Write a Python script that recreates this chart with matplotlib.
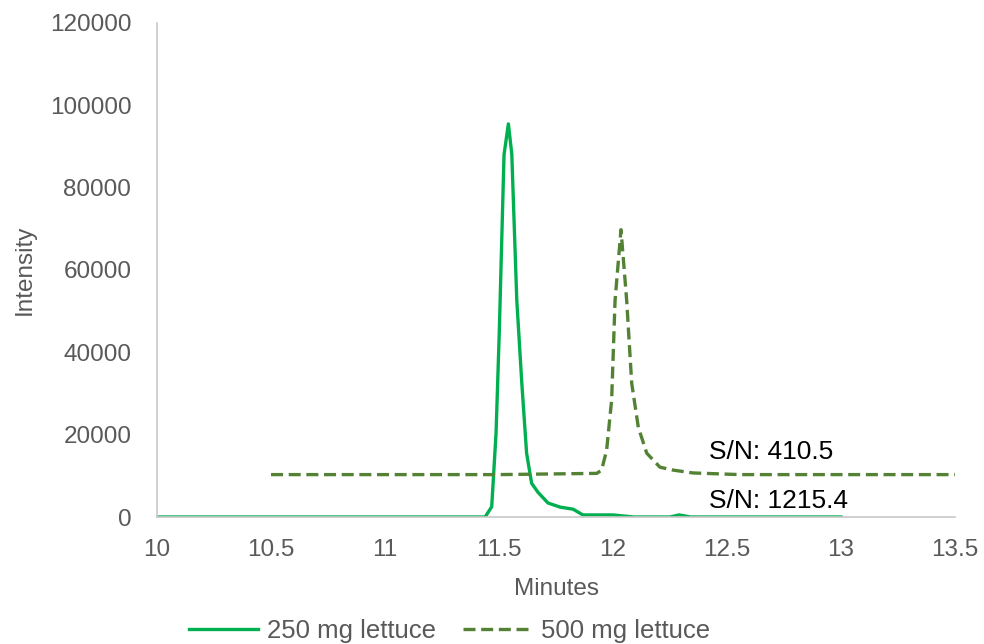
import matplotlib
matplotlib.use("Agg")
import matplotlib.pyplot as plt

plt.rcParams['font.family'] = ['Liberation Sans', 'DejaVu Sans']

# 250 mg lettuce (solid)
t_250 = [10.0, 11.0, 11.439, 11.468, 11.487, 11.501, 11.522, 11.541, 11.556,
         11.578, 11.600, 11.621, 11.643, 11.671, 11.715, 11.768, 11.825,
         11.868, 12.0, 12.09, 12.25, 12.29, 12.34, 13.0]
i_250 = [0, 0, 0, 2500, 20400, 44600, 88000, 95500, 88200,
         52600, 32500, 15500, 8200, 6000, 3400, 2400, 1900,
         500, 500, 0, 0, 500, 0, 0]

# 500 mg lettuce (dashed)
t_500 = [10.5, 11.5, 11.929, 11.950, 11.972, 11.994, 12.009, 12.035, 12.060,
         12.082, 12.111, 12.148, 12.206, 12.263, 12.351, 12.557, 13.5]
i_500 = [10300, 10300, 10600, 11400, 16200, 28400, 52600, 69800, 52600,
         32500, 21800, 15500, 12100, 11400, 10700, 10300, 10300]

sn_labels = ["S/N: 410.5", "S/N: 1215.4"]
sn_pos = [(12.42, 15700), (12.42, 3900)]

fig = plt.figure(figsize=(9.84, 6.44), dpi=100)
ax = fig.add_axes([0.1596, 0.1972, 0.9705 - 0.1596, 0.9643 - 0.1972])

ax.plot(t_250, i_250, color='#00B050', linewidth=2.4, label='250 mg lettuce')
ax.plot(t_500, i_500, color='#548235', linewidth=2.4, linestyle=(0, (3.6, 1.7)),
        label='500 mg lettuce')

for txt, (x, y) in zip(sn_labels, sn_pos):
    ax.text(x, y, txt, fontsize=19, color='black', va='center', ha='left')

ax.set_xlim(10, 13.5)
ax.set_ylim(0, 120000)
ax.set_xticks([10, 10.5, 11, 11.5, 12, 12.5, 13, 13.5])
ax.set_xticklabels(['10', '10.5', '11', '11.5', '12', '12.5', '13', '13.5'])
ax.set_yticks(range(0, 120001, 20000))

for s in ['top', 'right']:
    ax.spines[s].set_visible(False)
for s in ['left', 'bottom']:
    ax.spines[s].set_color('#c8c8c8')
    ax.spines[s].set_linewidth(1.2)

ax.tick_params(length=0, labelsize=17.5, colors='#595959')
ax.tick_params(axis='x', pad=16)
ax.tick_params(axis='y', pad=18.5)
ax.set_xlabel('Minutes', fontsize=17.5, color='#595959', labelpad=12)
ax.set_ylabel('Intensity', fontsize=17.5, color='#595959', labelpad=10)

fig.legend(loc='center', bbox_to_anchor=(0.457, 0.02), ncol=2, frameon=False,
           fontsize=18.5, labelcolor='#595959', handlelength=2.7,
           handletextpad=0.35, columnspacing=1.05)

fig.savefig('out.png', dpi=100)
plt.close(fig)
